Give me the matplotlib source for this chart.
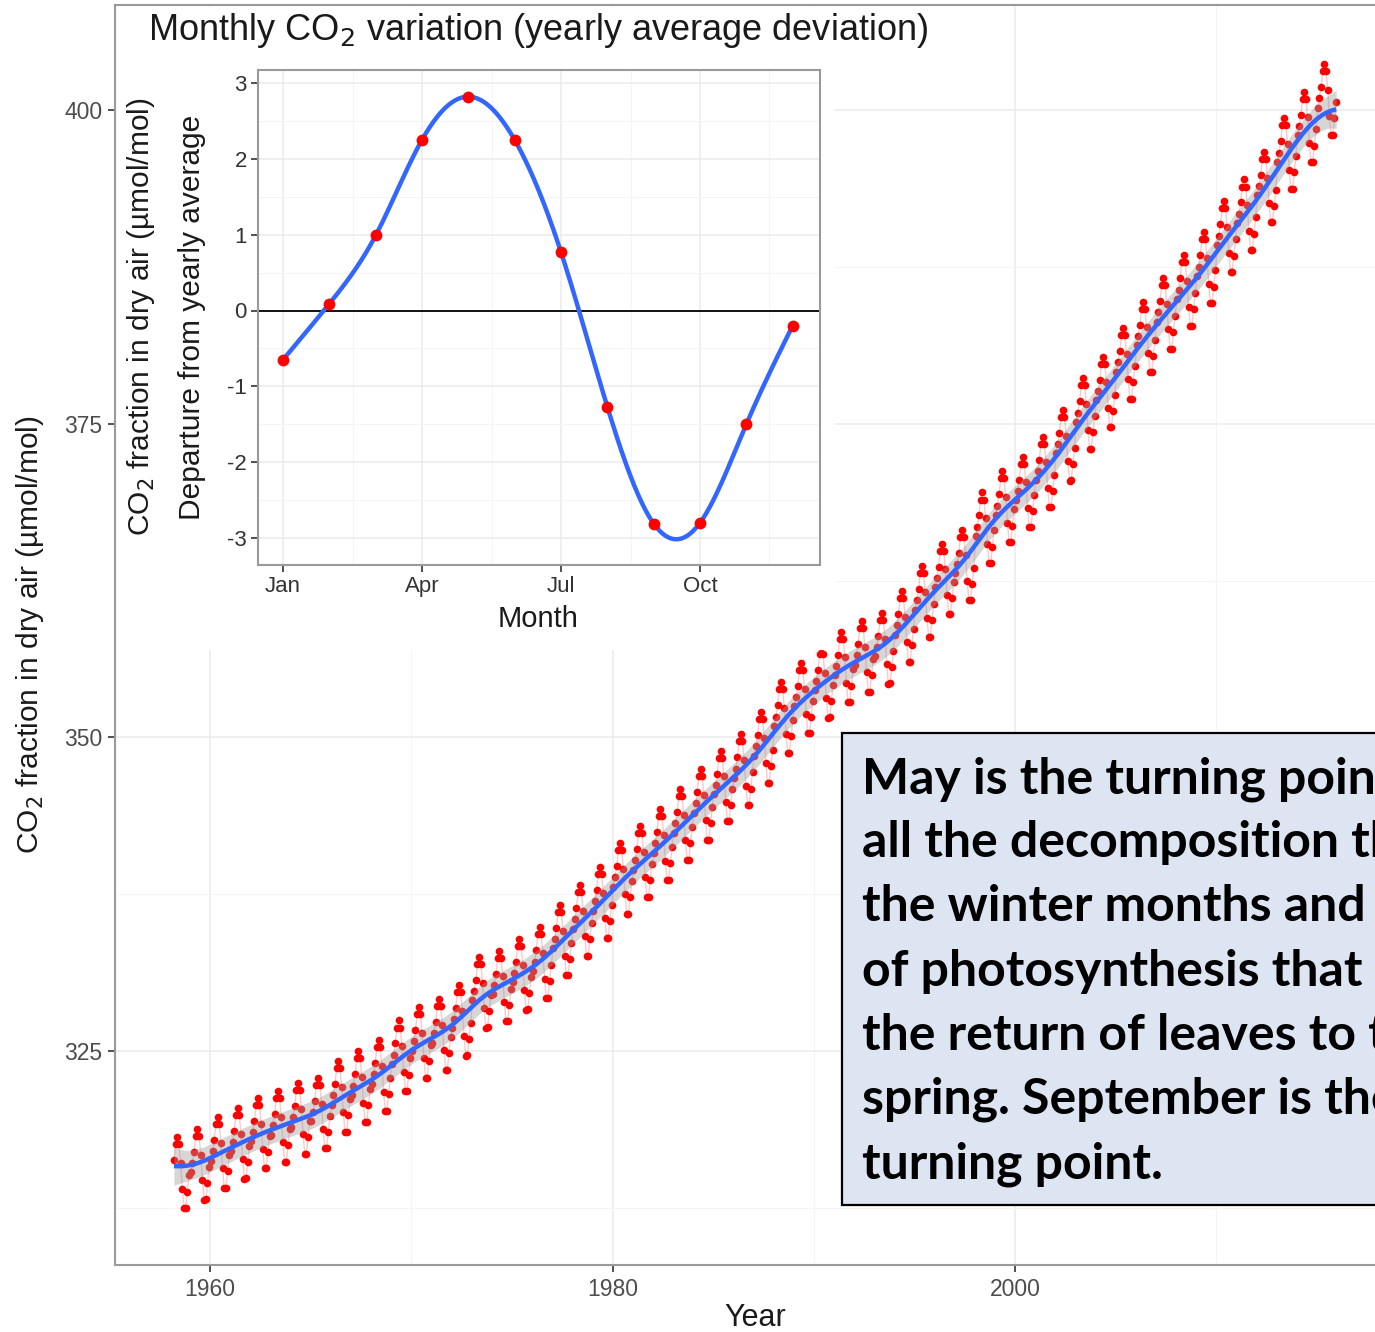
import numpy as np
import matplotlib
matplotlib.use("Agg")
import matplotlib.pyplot as plt
from matplotlib.patches import Rectangle

plt.rcParams['font.family'] = ['Liberation Sans', 'DejaVu Sans']

# ---------------- data ----------------
years = list(range(1958, 2016))
annual_mean = [315.3, 315.97, 316.91, 317.64, 318.45, 318.99, 319.62, 320.04, 321.38, 322.16,
               323.04, 324.62, 325.68, 326.32, 327.45, 329.68, 330.18, 331.11, 332.04, 333.83,
               335.40, 336.84, 338.75, 340.11, 341.45, 343.05, 344.65, 346.12, 347.42, 349.19,
               351.57, 353.12, 354.39, 355.61, 356.45, 357.10, 358.83, 360.82, 362.61, 363.73,
               366.70, 368.38, 369.55, 371.14, 373.28, 375.80, 377.52, 379.80, 381.90, 383.79,
               385.60, 387.43, 389.90, 391.65, 393.85, 396.52, 398.65, 400.83]
months = list(range(1, 13))
month_labels = ["Jan", "Apr", "Jul", "Oct"]
month_ticks = [1, 4, 7, 10]
seasonal_dev = [-0.65, 0.09, 0.99, 2.25, 2.82, 2.25, 0.77, -1.27, -2.81, -2.80, -1.50, -0.20]
first_month = 3  # record starts March 1958

year_ticks = [1960, 1980, 2000]
ppm_ticks = [325, 350, 375, 400]
dev_ticks = [-3, -2, -1, 0, 1, 2, 3]

title = "Monthly CO$_2$ variation (yearly average deviation)"
note_lines = ["May is the turning point",
              "all the decomposition that",
              "the winter months and the",
              "of photosynthesis that comes",
              "the return of leaves to the",
              "spring. September is the",
              "turning point."]

# monthly series = yearly average + monthly deviation
t_list, v_list = [], []
for yi, y in enumerate(years):
    for mi, m in enumerate(months):
        if y == years[0] and m < first_month:
            continue
        t_list.append(y + (m - 0.5) / 12.0)
        v_list.append(annual_mean[yi] + seasonal_dev[mi])
t = np.array(t_list)
v = np.array(v_list)

# ---------------- figure ----------------
W, H = 1375, 1332
fig = plt.figure(figsize=(W / 100, H / 100), dpi=100)
fig.patch.set_facecolor("white")

def fx(px):
    return px / W

def fy(py):
    return 1 - py / H

TXT = "#1a1a1a"
TICK_TXT = "#4d4d4d"

# main axes
L, R, T, B = 115, 1400, 5, 1265
ax = fig.add_axes([fx(L), fy(B), fx(R) - fx(L), fy(T) - fy(B)])
px_per_year = (1015 - 210) / 40.0
px_per_ppm = (1051 - 110) / 75.0
x0 = 1960 - (210 - L) / px_per_year
x1 = x0 + (R - L) / px_per_year
y0 = 325 - (B - 1051) / px_per_ppm
y1 = 400 + (110 - T) / px_per_ppm
ax.set_xlim(x0, x1)
ax.set_ylim(y0, y1)

ax.set_xticks(year_ticks)
ax.set_xticks([1970, 1990, 2010], minor=True)
ax.set_yticks(ppm_ticks)
ax.set_yticks([312.5, 337.5, 362.5, 387.5], minor=True)
ax.grid(which="major", color="#ebebeb", lw=1.1)
ax.grid(which="minor", color="#f5f5f5", lw=0.8)
ax.set_axisbelow(True)
ax.tick_params(which="major", length=5, width=1.2, color="#333333", labelsize=16.5, labelcolor=TICK_TXT, pad=4)
ax.tick_params(which="minor", length=0)
for s in ax.spines.values():
    s.set_color("#9a9a9a")
    s.set_linewidth(1.5)

# data
ax.plot(t, v, color="red", alpha=0.22, lw=1.0, zorder=3)
ax.plot(t, v, "o", color="red", ms=5.5, mec="none", zorder=4)

# smoother
ts = np.linspace(t.min(), t.max(), 800)
sigma = 0.8
Wm = np.exp(-0.5 * ((ts[:, None] - t[None, :]) / sigma) ** 2)
sw = Wm.sum(axis=1)
sm = (Wm * v[None, :]).sum(axis=1) / sw
sm_at_t = np.interp(t, ts, sm)
sd = np.std(v - sm_at_t)
half = 2.6 * sd / np.sqrt(sw)
ax.fill_between(ts, sm - half, sm + half, color="#999999", alpha=0.4, lw=0, zorder=5)
ax.plot(ts, sm, color="#3366FF", lw=3.2, zorder=6, solid_capstyle="butt")

fig.text(fx(755), fy(1318), "Year", fontsize=22, color=TXT, ha="center", va="center")
fig.text(fx(30), fy(635), "CO$_2$ fraction in dry air (µmol/mol)", fontsize=21.5, color=TXT,
         rotation=90, ha="center", va="center")

# white cover for inset region
cover = Rectangle((fx(117), fy(650)), fx(835) - fx(117), fy(7) - fy(650),
                  transform=fig.transFigure, facecolor="white", edgecolor="none", zorder=1)
fig.patches.append(cover)

# inset
iL, iR, iT, iB = 258, 820, 70, 565
ax2 = fig.add_axes([fx(iL), fy(iB), fx(iR) - fx(iL), fy(iT) - fy(iB)], zorder=3)
ax2.set_facecolor("white")
mpx = (700 - 283) / 9.0
upx = (538 - 83) / 6.0
ax2.set_xlim(1 - (283 - iL) / mpx, 1 + (iR - 283) / mpx)
ax2.set_ylim(-3 - (iB - 538) / upx, 3 + (83 - iT) / upx)
ax2.set_xticks(month_ticks)
ax2.set_xticklabels(month_labels)
ax2.set_xticks([2.5, 5.5, 8.5, 11.5], minor=True)
ax2.set_yticks(dev_ticks)
ax2.set_yticklabels([str(d) for d in dev_ticks])
ax2.set_yticks([-2.5, -1.5, -0.5, 0.5, 1.5, 2.5], minor=True)
ax2.grid(which="major", color="#ebebeb", lw=1.1)
ax2.grid(which="minor", color="#f5f5f5", lw=0.8)
ax2.set_axisbelow(True)
ax2.tick_params(which="major", length=5, width=1.2, color="#333333", labelsize=16, labelcolor="#333333", pad=3)
ax2.tick_params(which="minor", length=0)
for s in ax2.spines.values():
    s.set_color("#9a9a9a")
    s.set_linewidth(1.5)
ax2.axhline(0, color="black", lw=1.3, zorder=2)

# natural cubic spline through monthly deviations
xm = np.array(months, dtype=float)
ym = np.array(seasonal_dev)
n = len(xm)
h = np.diff(xm)
A = np.zeros((n, n))
bb = np.zeros(n)
A[0, 0] = 1
A[-1, -1] = 1
for i in range(1, n - 1):
    A[i, i - 1] = h[i - 1]
    A[i, i] = 2 * (h[i - 1] + h[i])
    A[i, i + 1] = h[i]
    bb[i] = 3 * ((ym[i + 1] - ym[i]) / h[i] - (ym[i] - ym[i - 1]) / h[i - 1])
c = np.linalg.solve(A, bb)
bcoef = (ym[1:] - ym[:-1]) / h - h * (2 * c[:-1] + c[1:]) / 3
dcoef = (c[1:] - c[:-1]) / (3 * h)
xs = np.linspace(xm[0], xm[-1], 400)
idx = np.clip(np.searchsorted(xm, xs) - 1, 0, n - 2)
dx = xs - xm[idx]
ys = ym[idx] + bcoef[idx] * dx + c[idx] * dx ** 2 + dcoef[idx] * dx ** 3
ax2.plot(xs, ys, color="#3366FF", lw=3.2, zorder=3)
ax2.plot(xm, ym, "o", color="red", ms=8.5, mec="none", zorder=4)

fig.text(fx(538), fy(619), "Month", fontsize=21, color=TXT, ha="center", va="center")
fig.text(fx(148), fy(30), title, fontsize=26, color=TXT, ha="left", va="center")
fig.text(fx(141), fy(317), "CO$_2$ fraction in dry air (µmol/mol)", fontsize=21.5, color=TXT,
         rotation=90, ha="center", va="center")
fig.text(fx(192), fy(317), "Departure from yearly average", fontsize=21.5, color=TXT,
         rotation=90, ha="center", va="center")

# note box
box = Rectangle((fx(842), fy(1205)), fx(1420) - fx(842), fy(733) - fy(1205),
                transform=fig.transFigure, facecolor="#dce5f1", edgecolor="black", lw=1.6, zorder=6)
fig.patches.append(box)
for i, line in enumerate(note_lines):
    fig.text(fx(862), fy(793 + 64.2 * i), line, fontsize=36, fontweight="bold",
             family=["Lato", "DejaVu Sans"], color="black", ha="left", va="baseline", zorder=7)

fig.savefig("out.png", dpi=100)
